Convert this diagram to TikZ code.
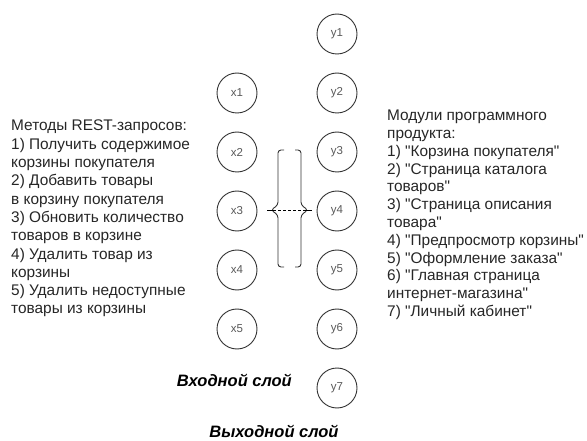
\documentclass[tikz,border=0pt]{standalone}
\usepackage{fontspec}
\setmainfont{Liberation Sans}[Ligatures=TeXOff]
\begin{document}
\begin{tikzpicture}[x=1pt,y=-1pt,
  neuron/.style={circle, draw=black!80, line width=0.9pt, minimum size=40pt, inner sep=0pt,
    font=\fontsize{11.5}{13}\selectfont, text=black!65},
  desc/.style={align=left, inner sep=0pt, font=\fontsize{15.4}{18.3}\selectfont, text=black!85},
  descr/.style={align=left, inner sep=0pt, font=\fontsize{15.4}{17.8}\selectfont, text=black!85},
  layer/.style={inner sep=0pt, font=\fontsize{16.5}{19}\selectfont\bfseries\itshape},
  bracketline/.style={draw=black!80, line width=0.9pt, rounded corners=3pt}]
\useasboundingbox (0,0) rectangle (587,441);
% input layer
\node[neuron] (x1) at (237,93) {x1};
\node[neuron] (x2) at (237,152) {x2};
\node[neuron] (x3) at (237,211) {x3};
\node[neuron] (x4) at (237,270) {x4};
\node[neuron] (x5) at (237,329) {x5};
% output layer
\node[neuron] (y1) at (337,34) {y1};
\node[neuron] (y2) at (337,93) {y2};
\node[neuron] (y3) at (337,152) {y3};
\node[neuron] (y4) at (337,211) {y4};
\node[neuron] (y5) at (337,270) {y5};
\node[neuron] (y6) at (337,329) {y6};
\node[neuron] (y7) at (337,388) {y7};
% braces
\draw[bracketline] (284,150) -- (278,150) -- (278,205) -- (271,210) -- (278,215) -- (278,267) -- (284,267);
\draw[bracketline] (295,150) -- (301,150) -- (301,205) -- (308,210) -- (301,215) -- (301,267) -- (295,267);
\coordinate (la) at (267,210);
\coordinate (lb) at (273,210);
\coordinate (ra) at (306,210);
\coordinate (rb) at (312,210);
\draw[line width=0.8pt] (la) -- (lb);
\draw[line width=0.8pt, dash pattern=on 3pt off 2pt] (lb) -- (ra);
\draw[line width=0.8pt] (ra) -- (rb);
% texts
\node[desc, anchor=north west] (left) at (11,120) {Методы REST-запросов:\\1) Получить содержимое\\корзины покупателя\\2) Добавить товары\\в корзину покупателя\\3) Обновить количество\\товаров в корзине\\4) Удалить товар из\\корзины\\5) Удалить недоступные\\товары из корзины};
\node[descr, anchor=north west] (right) at (387,110) {Модули программного\\продукта:\\1) "Корзина покупателя"\\2) "Страница каталога\\товаров"\\3) "Страница описания\\товара"\\4) "Предпросмотр корзины"\\5) "Оформление заказа"\\6) "Главная страница\\интернет-магазина"\\7) "Личный кабинет"};
\node[layer, anchor=east] (inlabel) at (292,380) {Входной слой};
\node[layer] (outlabel) at (274,431) {Выходной слой};
\end{tikzpicture}
\end{document}
